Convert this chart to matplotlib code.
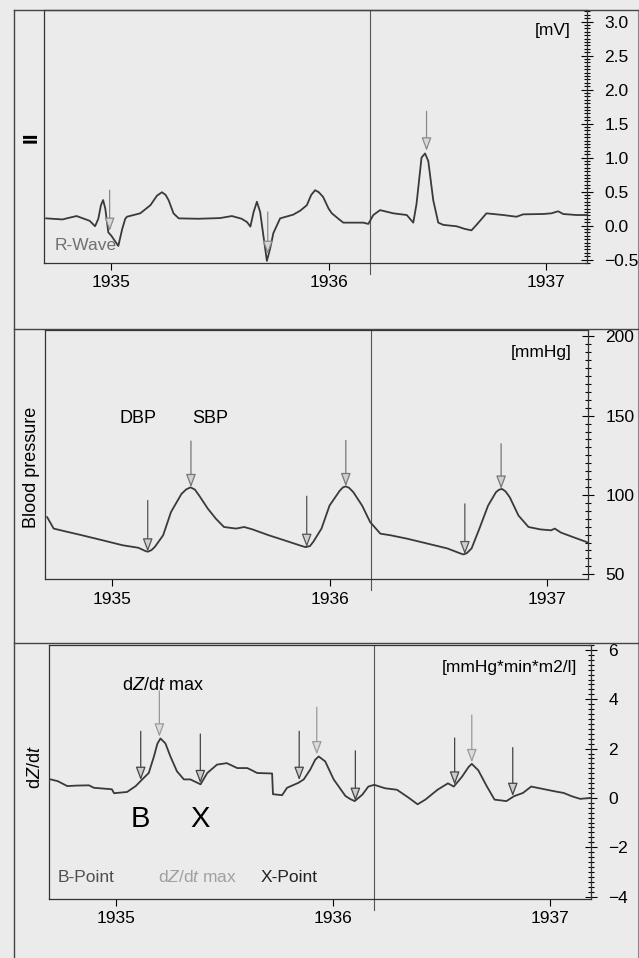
import matplotlib.pyplot as plt
from matplotlib.lines import Line2D
from matplotlib.ticker import MultipleLocator

plt.rcParams['font.family'] = ['Liberation Sans', 'DejaVu Sans']
plt.rcParams['mathtext.fontset'] = 'custom'
plt.rcParams['mathtext.rm'] = 'Liberation Sans'
plt.rcParams['mathtext.it'] = 'Liberation Sans:italic'

# lead II ECG [mV]
ecg_t = [1934.70, 1934.775, 1934.80, 1934.84, 1934.87, 1934.90, 1934.925, 1934.94, 1934.952,
         1934.962, 1934.972, 1934.986, 1935.00, 1935.032, 1935.05, 1935.064, 1935.072, 1935.133,
         1935.18, 1935.21, 1935.233, 1935.25, 1935.264, 1935.286, 1935.31, 1935.40, 1935.50,
         1935.555, 1935.60, 1935.625, 1935.64, 1935.655, 1935.67, 1935.685, 1935.70, 1935.716,
         1935.73, 1935.746, 1935.777, 1935.837, 1935.87, 1935.90, 1935.92, 1935.938, 1935.955,
         1935.975, 1936.0, 1936.015, 1936.053, 1936.068, 1936.16, 1936.183, 1936.206, 1936.237,
         1936.298, 1936.36, 1936.39, 1936.405, 1936.428, 1936.444, 1936.459, 1936.482, 1936.505,
         1936.528, 1936.589, 1936.628, 1936.658, 1936.681, 1936.727, 1936.804, 1936.865, 1936.896,
         1936.988, 1937.026, 1937.057, 1937.08, 1937.141, 1937.19]
ecg_mv = [0.106, 0.09, 0.11, 0.14, 0.105, 0.07, -0.01, 0.10, 0.30,
          0.375, 0.25, -0.10, -0.15, -0.30, -0.05, 0.10, 0.13, 0.18,
          0.30, 0.44, 0.49, 0.45, 0.37, 0.18, 0.106, 0.10, 0.11,
          0.14, 0.10, 0.05, -0.015, 0.20, 0.35, 0.20, -0.15, -0.52,
          -0.35, -0.11, 0.106, 0.16, 0.22, 0.30, 0.45, 0.52, 0.49,
          0.42, 0.25, 0.18, 0.08, 0.043, 0.043, 0.024, 0.155, 0.227,
          0.18, 0.155, 0.043, 0.32, 1.0, 1.06, 0.95, 0.37, 0.043,
          0.01, -0.01, -0.05, -0.07, 0.01, 0.18, 0.155, 0.13, 0.165,
          0.17, 0.18, 0.21, 0.17, 0.155, 0.155]
rwave_t = [1934.992, 1935.72, 1936.451]
rwave_top = [0.52, 0.20, 1.68]
rwave_tip = [-0.08, -0.42, 1.10]

# blood pressure [mmHg]
bp_t = [1934.70, 1934.73, 1934.785, 1934.86, 1934.953, 1935.047, 1935.12, 1935.15, 1935.163,
        1935.18, 1935.196, 1935.234, 1935.27, 1935.318, 1935.34, 1935.36, 1935.38, 1935.40,
        1935.44, 1935.477, 1935.514, 1935.57, 1935.607, 1935.645, 1935.72, 1935.79, 1935.87,
        1935.89, 1935.91, 1935.925, 1935.963, 1936.0, 1936.047, 1936.062, 1936.075, 1936.09,
        1936.11, 1936.15, 1936.187, 1936.234, 1936.28, 1936.355, 1936.449, 1936.542, 1936.605,
        1936.617, 1936.632, 1936.654, 1936.69, 1936.73, 1936.766, 1936.78, 1936.794, 1936.81,
        1936.83, 1936.87, 1936.916, 1936.97, 1937.02, 1937.037, 1937.065, 1937.12, 1937.19]
bp_mmhg = [86.0, 78.8, 77.0, 74.6, 71.5, 68.3, 66.7, 64.8, 64.2,
           65.2, 67.3, 74.6, 89.2, 100.6, 103.5, 104.8, 103.4, 99.6,
           91.3, 85.0, 79.8, 78.8, 79.8, 78.3, 74.6, 71.5, 67.9,
           67.1, 67.8, 70.4, 78.8, 93.3, 102.7, 104.8, 105.4, 104.5,
           101.7, 93.3, 82.9, 75.6, 74.6, 72.5, 69.4, 66.3, 63.0,
           62.5, 63.3, 66.3, 78.8, 93.3, 101.7, 103.3, 103.8, 102.3,
           98.5, 87.0, 79.8, 78.3, 77.7, 78.8, 76.3, 73.5, 70.0]
dbp_t = [1935.163, 1935.895, 1936.623]
dbp_top = [96.5, 99.2, 94.4]
dbp_tip = [64.2, 67.1, 62.5]
sbp_t = [1935.362, 1936.075, 1936.79]
sbp_top = [134.0, 134.4, 132.3]
sbp_tip = [104.8, 105.4, 103.8]

# impedance cardiogram dZ/dt
dz_t = [1934.697, 1934.73, 1934.774, 1934.82, 1934.874, 1934.897, 1934.98, 1934.99, 1935.05,
        1935.09, 1935.12, 1935.15, 1935.174, 1935.19, 1935.204, 1935.227, 1935.25, 1935.28,
        1935.312, 1935.342, 1935.389, 1935.42, 1935.465, 1935.51, 1935.558, 1935.604, 1935.619,
        1935.65, 1935.719, 1935.723, 1935.765, 1935.788, 1935.84, 1935.865, 1935.895, 1935.918,
        1935.934, 1935.964, 1936.003, 1936.057, 1936.08, 1936.10, 1936.135, 1936.163, 1936.19,
        1936.24, 1936.295, 1936.35, 1936.39, 1936.426, 1936.482, 1936.53, 1936.557, 1936.595,
        1936.625, 1936.64, 1936.67, 1936.71, 1936.745, 1936.80, 1936.835, 1936.876, 1936.914,
        1936.97, 1937.026, 1937.064, 1937.10, 1937.14, 1937.19]
dz_val = [0.75, 0.68, 0.48, 0.50, 0.51, 0.41, 0.35, 0.19, 0.24,
          0.48, 0.75, 1.01, 1.68, 2.20, 2.41, 2.21, 1.68, 1.08,
          0.75, 0.75, 0.55, 1.01, 1.35, 1.41, 1.21, 1.21, 1.15,
          1.01, 0.99, 0.15, 0.11, 0.41, 0.61, 0.75, 1.15, 1.55,
          1.68, 1.48, 0.75, 0.08, -0.05, -0.13, 0.13, 0.46, 0.53,
          0.39, 0.33, 0.0, -0.26, -0.07, 0.33, 0.59, 0.46, 0.86,
          1.25, 1.38, 1.12, 0.46, -0.07, -0.13, 0.07, 0.20, 0.46,
          0.36, 0.26, 0.20, 0.07, -0.04, 0.0]
b_t = [1935.113, 1935.844, 1936.561]
b_top = [2.70, 2.70, 2.43]
b_tip = [0.72, 0.72, 0.53]
dzmax_t = [1935.199, 1935.925, 1936.64]
dzmax_top = [4.34, 3.68, 3.36]
dzmax_tip = [2.48, 1.76, 1.44]
x_t = [1935.388, 1936.103, 1936.829]
x_top = [2.59, 1.91, 2.04]
x_tip = [0.59, -0.13, 0.07]

marker_t = 1936.19
xlim = (1934.69, 1937.19)
bg = '#ebebeb'
trace = '#3a3a3a'


def arrows(ax, xs, tops, tips, stem, head):
    for x, a, b in zip(xs, tops, tips):
        ax.annotate('', xy=(x, b), xytext=(x, a),
                    arrowprops=dict(arrowstyle='-|>,head_length=0.8,head_width=0.3',
                                    ec=stem, fc=head, lw=0.9, shrinkA=0, shrinkB=0,
                                    mutation_scale=10))


def style(ax, major, minor, ylim):
    ax.set_facecolor(bg)
    ax.set_xlim(*xlim)
    ax.set_ylim(*ylim)
    ax.set_xticks([1935, 1936, 1937])
    ax.yaxis.tick_right()
    ax.yaxis.set_major_locator(MultipleLocator(major))
    ax.yaxis.set_minor_locator(MultipleLocator(minor))
    ax.tick_params(axis='x', direction='out', length=5, width=0.8, pad=4, labelsize=12.5)
    ax.tick_params(axis='y', which='major', direction='inout', length=9, width=0.8, pad=8, labelsize=12.5)
    ax.tick_params(axis='y', which='minor', direction='inout', length=5, width=0.8)
    for s in ax.spines.values():
        s.set_linewidth(0.9)
        s.set_color('#333333')
    ax.axvline(marker_t, ymin=-0.045, ymax=1, color='#555555', lw=0.8, clip_on=False)


fig = plt.figure(figsize=(6.39, 9.58), dpi=100, facecolor=bg)

# panel 1: ECG
ax1 = fig.add_axes([0.0689, 0.7255, 0.8498, 0.2641])
style(ax1, 0.5, 0.05, (-0.55, 3.17))
ax1.plot(ecg_t, ecg_mv, color=trace, lw=1.3)
arrows(ax1, rwave_t, rwave_top, rwave_tip, '#8a8a8a', '#d8d8d8')
ax1.text(1934.74, -0.30, 'R-Wave', color='#707070', fontsize=12.5, va='center')
ax1.text(0.97, 0.92, '[mV]', transform=ax1.transAxes, ha='right', va='center', fontsize=12.5)
fig.text(31 / 639, 1 - 137 / 958, 'II', rotation=90, fontsize=15, fontweight='bold',
         ha='center', va='center')

# panel 2: blood pressure
ax2 = fig.add_axes([0.0704, 0.3956, 0.8498, 0.2599])
style(ax2, 50, 5, (47, 204))
ax2.plot(bp_t, bp_mmhg, color=trace, lw=1.3)
arrows(ax2, dbp_t, dbp_top, dbp_tip, '#555555', '#d0d0d0')
arrows(ax2, sbp_t, sbp_top, sbp_tip, '#777777', '#d0d0d0')
ax2.text(1935.12, 148.5, 'DBP', ha='center', va='center', fontsize=13)
ax2.text(1935.45, 148.5, 'SBP', ha='center', va='center', fontsize=13)
ax2.text(0.97, 0.91, '[mmHg]', transform=ax2.transAxes, ha='right', va='center', fontsize=12.5)
fig.text(31 / 639, 1 - 467 / 958, 'Blood pressure', rotation=90, fontsize=13,
         ha='center', va='center')

# panel 3: dZ/dt
ax3 = fig.add_axes([0.0767, 0.0616, 0.8482, 0.2651])
style(ax3, 2, 0.2, (-4.1, 6.2))
ax3.plot(dz_t, dz_val, color=trace, lw=1.3)
arrows(ax3, b_t, b_top, b_tip, '#444444', '#cccccc')
arrows(ax3, dzmax_t, dzmax_top, dzmax_tip, '#9a9a9a', '#dcdcdc')
arrows(ax3, x_t, x_top, x_tip, '#444444', '#cccccc')
ax3.text(1935.215, 4.55, r'd$Z$/d$t$ max', ha='center', va='center', fontsize=13)
ax3.text(1935.11, -0.86, 'B', ha='center', va='center', fontsize=21)
ax3.text(1935.385, -0.86, 'X', ha='center', va='center', fontsize=21)
ax3.text(1934.73, -3.22, 'B-Point', color='#505050', fontsize=12.5, va='center')
ax3.text(1935.195, -3.22, r'd$Z$/d$t$ max', color='#a0a0a0', fontsize=12.5, va='center')
ax3.text(1935.665, -3.22, 'X-Point', color='#222222', fontsize=12.5, va='center')
ax3.text(0.975, 0.91, '[mmHg*min*m2/l]', transform=ax3.transAxes, ha='right', va='center',
         fontsize=12.5)
fig.text(36 / 639, 1 - 767 / 958, r'd$Z$/d$t$', rotation=90, fontsize=13,
         ha='center', va='center')

# outer frame and panel separators
frame = '#444444'
fig.add_artist(Line2D([14 / 639, 14 / 639], [0, 1 - 10 / 958], color=frame, lw=1.0))
fig.add_artist(Line2D([637.5 / 639, 637.5 / 639], [0, 1 - 10 / 958], color='#8a8a8a', lw=0.8))
for y in [10, 329, 643]:
    fig.add_artist(Line2D([14 / 639, 1], [1 - y / 958, 1 - y / 958], color=frame, lw=1.0))

fig.savefig('out.png', dpi=100, facecolor=bg)
